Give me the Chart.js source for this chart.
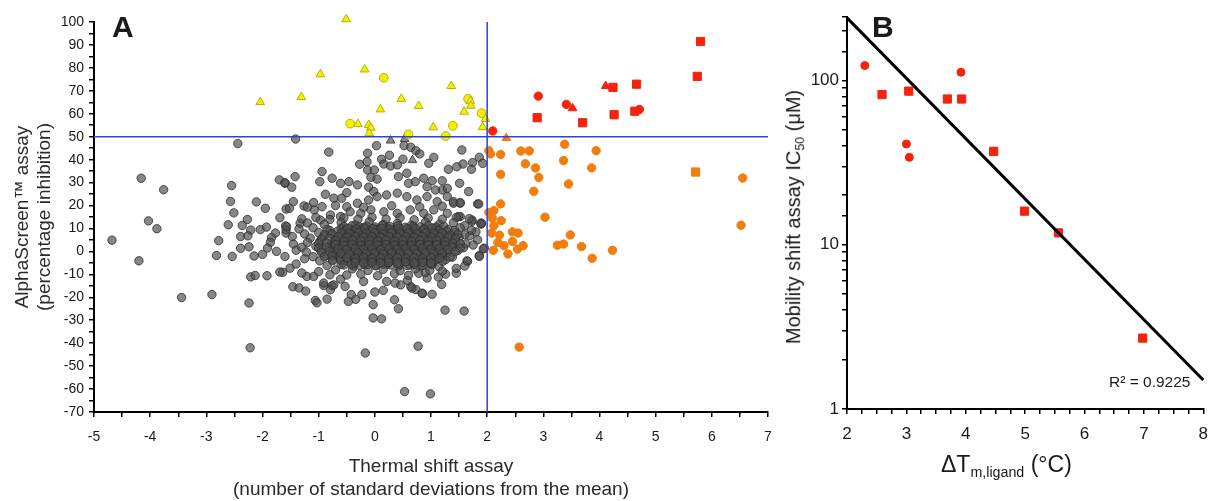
<!DOCTYPE html>
<html>
<head>
<meta charset="utf-8">
<script src="https://cdn.jsdelivr.net/npm/chart.js@4.4.1/dist/chart.umd.min.js"></script>
<style>
  body { margin: 0; background: #fff; width: 1210px; height: 501px; overflow: hidden; position: relative; font-family: Arial, "Liberation Sans", sans-serif; }
  #wrapA { position: absolute; left: 0; top: 0; }
  #wrapB { position: absolute; left: 760px; top: 0; }
  .lbl { position: absolute; color: #1a1a1a; white-space: nowrap; line-height: 1; }
  .lbl sub { font-size: 0.62em; vertical-align: -0.35em; }
</style>
</head>
<body>
<div id="wrapA"><canvas id="chartA" width="790" height="501"></canvas></div>
<div id="wrapB"><canvas id="chartB" width="458" height="501"></canvas></div>
<div class="lbl" style="left:112px;top:12px;font-weight:bold;font-size:30px;">A</div>
<div class="lbl" style="left:872px;top:12px;font-weight:bold;font-size:30px;">B</div>
<div class="lbl" style="left:1109px;top:374px;font-size:15.5px;">R² = 0.9225</div>
<div class="lbl" style="left:795px;top:217px;font-size:20px;transform:translate(-50%,-50%) rotate(-90deg);">Mobility shift assay IC<sub>50</sub> (μM)</div>
<div class="lbl" style="left:941px;top:453px;font-size:23px;">ΔT<sub>m,ligand</sub> (°C)</div>

<script>
// ---- panel A: thermal shift vs AlphaScreen ----
const cutX = 2;     // 2 SD threshold
const cutY = 50;    // 50 % inhibition threshold

const grayTri = [[0.28, 48.3], [0.53, 49.0], [0.67, 39.8]];

const grayPts = [
  // outliers and left side
  [-4.68, 4.9], [-4.20, -4.1], [-4.16, 31.9], [-3.76, 26.9], [-4.03, 13.3], [-3.88, 9.9], [-3.44, -20.1], [-2.90, -18.8],
  [-2.44, 47.0], [-2.55, 28.7], [-2.57, 21.8], [-2.51, 16.8], [-2.61, 11.6], [-2.78, 4.7], [-2.82, -1.8], [-2.54, -2.2],
  [-2.24, -22.5], [-2.22, -42.0], [-2.11, 21.6], [-1.95, 18.8], [-2.27, 13.9], [-2.36, 11.3], [-2.21, 9.3], [-2.39, 6.5],
  [-2.26, 6.8], [-2.04, 9.5], [-1.93, 10.6], [-1.77, 8.0], [-1.84, 6.0], [-1.86, 4.0], [-1.91, 1.5], [-2.39, 1.4],
  [-2.24, 2.0], [-2.15, -2.0], [-2.00, -1.3], [-1.75, 0.0], [-1.70, 31.2], [-1.60, 29.7], [-1.69, 14.7], [-1.58, 18.5],
  [-1.59, 11.1], [-1.58, 8.0], [-1.60, -2.2], [-1.64, -9.1], [-2.21, -11.1], [-2.13, -10.5], [-1.92, -10.6], [-1.69, -9.0],
  // lower tail
  [-0.17, -44.3], [0.77, -41.3], [0.53, -61.1], [0.99, -62.1], [-0.03, -23.2], [-0.03, -29.0], [0.12, -29.4], [0.42, -25.0],
  [0.35, -21.1], [1.25, -25.6], [1.59, -26.0], [0.85, -18.4], [1.02, -18.7], [1.19, -14.4], [-1.06, -21.4], [-1.03, -22.4],
  [-0.85, -20.8], [-0.47, -21.8], [-0.34, -20.9], [-0.42, -18.8], [-0.23, -18.8], [0.00, -17.7], [0.15, -17.0], [-1.46, -15.4],
  [-1.35, -15.9], [-1.23, -17.3], [1.13, -11.2], [1.45, -9.5], [1.26, -9.9], [0.64, -15.3], [0.73, -16.6], [0.46, -14.6],
  [-0.76, -15.0], [-0.91, -14.9], [-0.53, -15.3], [0.58, -12.7], [0.66, -16.0], [0.84, -18.2], [1.65, -4.4], [1.86, -1.8],
  [1.95, 1.4], [1.83, 5.1], [1.89, 12.3], [1.73, 13.1], [1.69, 6.8], [-1.58, 9.4], [-1.47, 6.5], [-1.51, -7.3],
  [-1.21, -10.9], [-1.09, -10.9], [-0.91, -13.8], [-0.79, -16.7], [-0.73, -14.6], [-0.61, -12.1], [-0.50, -10.3], [-0.20, -13.1],
  [0.21, -13.1], [0.36, -13.8], [0.78, -9.5], [0.93, -11.6], [1.14, -6.6], [1.64, -4.1], [1.86, -2.2], [1.93, 1.1],
  [1.89, 11.9], [1.52, 15.2], [1.83, 20.7], [1.52, 21.0], [1.40, 21.0],
  // upper part
  [-1.41, 49.0], [-0.82, 43.3], [0.03, 46.1], [0.52, 46.1], [0.64, 45.4], [0.73, 43.9], [0.80, 42.5], [-0.13, 42.8],
  [0.26, 41.9], [0.12, 40.2], [-0.14, 39.1], [-0.27, 38.0], [0.16, 38.1], [0.28, 37.2], [0.40, 37.7], [0.50, 40.2],
  [1.05, 41.0], [0.96, 38.4], [1.55, 44.2], [1.86, 41.0], [1.92, 38.4], [1.74, 38.7], [1.57, 38.1], [1.46, 36.9],
  [1.31, 35.8], [1.72, 35.8], [-0.94, 34.8], [-1.42, 32.6], [-1.60, 30.0], [-1.48, 28.0], [-0.98, 30.4], [-0.76, 31.9],
  [-0.61, 29.7], [-0.46, 30.4], [-0.31, 29.0], [-0.13, 35.5], [-0.01, 35.5], [-0.07, 32.3], [0.04, 31.5], [0.42, 32.6],
  [0.57, 34.1], [0.60, 29.7], [0.72, 30.4], [0.87, 31.9], [1.02, 30.8], [1.20, 30.8], [1.20, 26.8], [0.93, 28.2],
  [1.08, 26.8], [1.29, 27.5], [1.51, 29.7], [1.67, 26.1], [-0.11, 28.0], [-0.02, 26.1], [-0.88, 24.9], [-0.73, 23.2],
  [-0.59, 23.2], [-0.50, 25.6], [-1.45, 21.7], [-1.52, 18.8], [-1.26, 19.8], [-1.09, 21.3], [-1.08, 18.1], [-0.94, 19.5],
  [-0.79, 15.9], [-0.50, 19.5], [-0.31, 21.0], [-0.11, 22.4], [0.04, 23.9], [0.21, 24.6], [0.40, 25.4], [0.57, 23.9],
  [0.75, 22.4], [0.93, 23.9], [1.11, 21.7], [1.29, 23.9], [1.40, 21.7], [1.52, 21.3], [1.85, 20.7], [1.73, 13.7],
  [1.90, 12.3], [1.49, 15.2], [1.29, 16.6], [1.05, 18.1], [0.87, 16.6], [0.63, 18.1], [0.40, 16.6], [0.16, 17.3],
  [-0.07, 18.1], [-0.25, 16.6], [-0.44, 17.3], [-0.61, 15.2], [-0.97, 13.7], [-1.33, 12.3], [-1.57, 10.8],
  [-1.2, 19.3], [-0.7, 20.0], [-0.2, 19.2], [0.3, 19.9], [0.8, 19.4], [1.2, 19.7],
  [-1.3, 14.2], [-1.05, 14.8], [-0.8, 13.9], [-0.55, 14.6], [-0.3, 14.0], [-0.05, 14.9], [0.2, 14.1], [0.45, 14.7],
  [0.7, 13.8], [0.95, 14.5], [1.2, 14.0], [1.45, 14.8], [1.68, 14.3],
  // around the core
  [-1.3, -9.4], [-1.0, -8.8], [-0.8, -10.2], [-0.25, -9.9], [0.05, -10.6], [0.35, -9.7], [0.6, -10.4], [0.9, -9.2],
  [1.2, -8.6], [1.45, -7.4], [-1.4, -5.5], [-1.25, -3.2], [1.6, -6.4], [1.75, 2.8], [1.8, 8.5], [-1.45, 3.2], [-1.4, 0.5],
  // dense core
  [-1.2, 12.4], [-0.9, 11.8], [-0.6, 12.6], [-0.35, 11.5], [-0.1, 12.9], [0.15, 11.7], [0.4, 12.2], [0.65, 11.4],
  [0.9, 12.8], [1.15, 11.9], [1.4, 12.5], [1.6, 11.2], [-1.35, 9.8], [-1.1, 10.3], [-0.85, 9.6], [-0.6, 10.1],
  [-0.4, 9.4], [-0.2, 10.5], [0.02, 9.7], [0.22, 10.2], [0.45, 9.5], [0.68, 10.4], [0.88, 9.8], [1.08, 10.1],
  [1.3, 9.6], [1.52, 10.3], [1.72, 9.2], [-1.25, 7.6], [-1.0, 8.2], [-0.78, 7.8], [-0.55, 8.4], [-0.35, 7.5],
  [-0.15, 8.1], [0.05, 7.7], [0.25, 8.3], [0.42, 7.6], [0.6, 8.0], [0.8, 7.4], [1.0, 8.2], [1.2, 7.7],
  [1.42, 8.1], [1.6, 7.3], [-1.15, 5.8], [-0.92, 6.2], [-0.7, 5.6], [-0.5, 6.3], [-0.3, 5.7], [-0.1, 6.1],
  [0.1, 5.5], [0.3, 6.2], [0.5, 5.8], [0.7, 6.4], [0.9, 5.6], [1.1, 6.0], [1.3, 5.4], [1.5, 6.1],
  [-1.2, 3.9], [-0.98, 4.3], [-0.76, 3.6], [-0.55, 4.2], [-0.36, 3.8], [-0.16, 4.4], [0.04, 3.7], [0.24, 4.1],
  [0.44, 3.5], [0.62, 4.3], [0.82, 3.8], [1.02, 4.2], [1.22, 3.6], [1.44, 4.0], [1.62, 3.3], [-1.3, 1.8],
  [-1.05, 2.2], [-0.82, 1.6], [-0.6, 2.4], [-0.4, 1.7], [-0.2, 2.3], [0.0, 1.9], [0.2, 2.5], [0.4, 1.8],
  [0.6, 2.2], [0.8, 1.5], [1.0, 2.3], [1.2, 1.9], [1.4, 2.4], [1.58, 1.6], [-1.22, -0.2], [-0.96, 0.3],
  [-0.74, -0.4], [-0.52, 0.4], [-0.32, -0.3], [-0.12, 0.2], [0.08, -0.5], [0.28, 0.3], [0.48, -0.2], [0.68, 0.5],
  [0.88, -0.3], [1.08, 0.1], [1.28, -0.4], [1.48, 0.4], [-1.1, -2.3], [-0.86, -1.8], [-0.64, -2.5], [-0.44, -1.7],
  [-0.24, -2.2], [-0.04, -1.6], [0.16, -2.4], [0.36, -1.9], [0.56, -2.6], [0.76, -1.8], [0.96, -2.3], [1.16, -1.7],
  [1.38, -2.5], [-0.98, -4.1], [-0.75, -3.6], [-0.55, -4.4], [-0.35, -3.8], [-0.14, -4.2], [0.06, -3.5], [0.26, -4.3],
  [0.46, -3.7], [0.66, -4.5], [0.86, -3.9], [1.06, -4.2], [1.26, -3.6], [-0.85, -6.2], [-0.6, -5.7], [-0.38, -6.4],
  [-0.18, -5.8], [0.02, -6.3], [0.22, -5.6], [0.42, -6.5], [0.62, -5.9], [0.82, -6.4], [1.02, -5.7], [-0.7, -8.1],
  [-0.4, -7.6], [-0.12, -8.3], [0.15, -7.8], [0.45, -8.4], [0.72, -7.7], [0.98, -8.2],
  [-0.25, 7.0], [-0.05, 6.8], [0.15, 7.1], [0.35, 6.9], [0.55, 7.2], [0.75, 6.7], [-0.2, 3.0], [0.0, 2.8],
  [0.2, 3.2], [0.4, 2.9], [0.6, 3.1], [0.8, 2.7], [1.0, 3.0], [-0.15, -1.0], [0.05, -0.8], [0.25, -1.2],
  [0.45, -0.9], [0.65, -1.1], [0.85, -0.7], [-0.4, 5.0], [-0.2, 4.9], [0.6, 5.0], [0.3, 5.1], [0.85, 5.1],
  [-0.3, 1.0], [0.1, 1.0], [0.5, 0.8], [0.9, 1.1],
  [-0.55, 10.9], [-0.41, 11.2], [-0.28, 10.6], [-0.14, 11.0], [0.0, 10.7], [0.13, 11.3], [0.27, 10.8], [0.41, 11.1],
  [0.54, 10.5], [0.68, 11.0], [0.81, 10.7], [0.95, 11.2], [1.09, 10.6], [1.23, 10.9],
  [-0.8, 9.1], [-0.66, 8.8], [-0.52, 9.3], [-0.38, 8.7], [-0.25, 9.2], [-0.11, 8.9], [0.03, 9.4], [0.17, 8.8],
  [0.31, 9.1], [0.45, 8.6], [0.58, 9.3], [0.72, 8.9], [0.86, 9.2], [1.0, 8.7], [1.14, 9.1], [1.28, 8.8], [1.42, 9.0],
  [-0.9, 7.2], [-0.76, 7.5], [-0.62, 7.0], [-0.48, 7.4], [-0.34, 7.1], [-0.2, 7.6], [-0.06, 7.2], [0.08, 7.5],
  [0.22, 7.0], [0.36, 7.4], [0.5, 7.1], [0.64, 7.6], [0.78, 7.2], [0.92, 7.5], [1.06, 7.0], [1.2, 7.4], [1.34, 7.1], [1.48, 7.5],
  [-0.95, 5.3], [-0.81, 5.6], [-0.67, 5.1], [-0.53, 5.5], [-0.39, 5.2], [-0.25, 5.7], [-0.11, 5.3], [0.03, 5.6],
  [0.17, 5.1], [0.31, 5.5], [0.45, 5.2], [0.59, 5.7], [0.73, 5.3], [0.87, 5.6], [1.01, 5.1], [1.15, 5.5], [1.29, 5.2], [1.43, 5.6],
  [-1.0, 3.4], [-0.86, 3.7], [-0.72, 3.2], [-0.58, 3.6], [-0.44, 3.3], [-0.3, 3.8], [-0.16, 3.4], [-0.02, 3.7],
  [0.12, 3.2], [0.26, 3.6], [0.4, 3.3], [0.54, 3.8], [0.68, 3.4], [0.82, 3.7], [0.96, 3.2], [1.1, 3.6], [1.24, 3.3],
  [1.38, 3.7], [1.52, 3.4],
  [-1.0, 1.5], [-0.86, 1.8], [-0.72, 1.3], [-0.58, 1.7], [-0.44, 1.4], [-0.3, 1.9], [-0.16, 1.5], [-0.02, 1.8],
  [0.12, 1.3], [0.26, 1.7], [0.4, 1.4], [0.54, 1.9], [0.68, 1.5], [0.82, 1.8], [0.96, 1.3], [1.1, 1.7], [1.24, 1.4],
  [1.38, 1.8], [1.52, 1.5],
  [-0.95, -0.4], [-0.81, -0.1], [-0.67, -0.6], [-0.53, -0.2], [-0.39, -0.5], [-0.25, 0.0], [-0.11, -0.4], [0.03, -0.1],
  [0.17, -0.6], [0.31, -0.2], [0.45, -0.5], [0.59, 0.0], [0.73, -0.4], [0.87, -0.1], [1.01, -0.6], [1.15, -0.2],
  [1.29, -0.5], [1.43, -0.1],
  [-0.9, -2.3], [-0.76, -2.0], [-0.62, -2.5], [-0.48, -2.1], [-0.34, -2.4], [-0.2, -1.9], [-0.06, -2.3], [0.08, -2.0],
  [0.22, -2.5], [0.36, -2.1], [0.5, -2.4], [0.64, -1.9], [0.78, -2.3], [0.92, -2.0], [1.06, -2.5], [1.2, -2.1], [1.34, -2.4],
  [-0.75, -4.1], [-0.61, -3.8], [-0.47, -4.3], [-0.33, -3.9], [-0.19, -4.2], [-0.05, -3.7], [0.09, -4.1], [0.23, -3.8],
  [0.37, -4.3], [0.51, -3.9], [0.65, -4.2], [0.79, -3.7], [0.93, -4.1], [1.07, -3.8], [1.21, -4.3],
  [-0.55, -5.9], [-0.41, -5.6], [-0.27, -6.1], [-0.13, -5.7], [0.01, -6.0], [0.15, -5.5], [0.29, -5.9], [0.43, -5.6],
  [0.57, -6.1], [0.71, -5.7], [0.85, -6.0], [0.99, -5.5],
  // darkest centre
  [-0.48, 10.0], [-0.33, 9.8], [-0.18, 10.2], [-0.03, 9.9], [0.12, 10.1], [0.27, 9.7], [0.42, 10.2], [0.57, 9.9],
  [0.72, 10.1], [0.87, 9.7], [1.02, 10.2],
  [-0.6, 8.0], [-0.45, 7.8], [-0.3, 8.2], [-0.15, 7.9], [0.0, 8.1], [0.15, 7.7], [0.3, 8.2], [0.45, 7.9],
  [0.6, 8.1], [0.75, 7.8], [0.9, 8.2], [1.05, 7.9], [1.2, 8.1],
  [-0.65, 6.4], [-0.5, 6.1], [-0.35, 6.5], [-0.2, 6.2], [-0.05, 6.4], [0.1, 6.1], [0.25, 6.5], [0.4, 6.2],
  [0.55, 6.4], [0.7, 6.1], [0.85, 6.5], [1.0, 6.2], [1.15, 6.4], [1.3, 6.1],
  [-0.7, 4.7], [-0.55, 4.4], [-0.4, 4.8], [-0.25, 4.5], [-0.1, 4.7], [0.05, 4.4], [0.2, 4.8], [0.35, 4.5],
  [0.5, 4.7], [0.65, 4.4], [0.8, 4.8], [0.95, 4.5], [1.1, 4.7], [1.25, 4.4],
  [-0.7, 2.9], [-0.55, 2.6], [-0.4, 3.0], [-0.25, 2.7], [-0.1, 2.9], [0.05, 2.6], [0.2, 3.0], [0.35, 2.7],
  [0.5, 2.9], [0.65, 2.6], [0.8, 3.0], [0.95, 2.7], [1.1, 2.9], [1.25, 2.6],
  [-0.65, 1.1], [-0.5, 0.8], [-0.35, 1.2], [-0.2, 0.9], [-0.05, 1.1], [0.1, 0.8], [0.25, 1.2], [0.4, 0.9],
  [0.55, 1.1], [0.7, 0.8], [0.85, 1.2], [1.0, 0.9], [1.15, 1.1], [1.3, 0.8],
  [-0.6, -0.8], [-0.45, -1.1], [-0.3, -0.7], [-0.15, -1.0], [0.0, -0.8], [0.15, -1.1], [0.3, -0.7], [0.45, -1.0],
  [0.6, -0.8], [0.75, -1.1], [0.9, -0.7], [1.05, -1.0], [1.2, -0.8],
  [-0.5, -2.8], [-0.35, -3.1], [-0.2, -2.7], [-0.05, -3.0], [0.1, -2.8], [0.25, -3.1], [0.4, -2.7], [0.55, -3.0],
  [0.7, -2.8], [0.85, -3.1], [1.0, -2.7], [1.15, -3.0],
  [-0.35, -4.8], [-0.2, -5.1], [-0.05, -4.7], [0.1, -5.0], [0.25, -4.8], [0.4, -5.1], [0.55, -4.7], [0.7, -5.0],
  [0.85, -4.8], [1.0, -5.1]
];

const yellowTri = [
  [-0.51, 101.2], [-2.04, 65.1], [-1.31, 67.3], [-0.97, 77.2], [-0.18, 79.3], [0.47, 66.5], [0.10, 61.9], [0.78, 63.4],
  [1.36, 72.1], [-0.30, 55.5], [-0.11, 55.1], [-0.07, 53.9], [-0.10, 51.5], [1.04, 54.1], [1.59, 60.9], [1.70, 65.5],
  [1.71, 63.5], [1.97, 57.7], [1.92, 54.2]
];
const yellowCirc = [[0.16, 75.7], [-0.44, 55.7], [0.60, 51.0], [1.26, 50.3], [1.39, 54.8], [1.66, 66.5], [1.90, 60.3]];

const redCirc = [[2.10, 52.5], [2.91, 67.7], [3.41, 64.1], [4.71, 61.9]];
const redTri = [[3.52, 62.4], [4.11, 72.1]];
const redSq = [[4.24, 71.5], [4.66, 72.9], [2.89, 58.3], [3.70, 56.1], [4.26, 59.6], [4.63, 61.1], [5.74, 76.3], [5.80, 91.5]];

const orangeTri = [[2.34, 49.4]];
const orangeSq = [[5.71, 34.6]];
const orangeCirc = [
  [2.03, 43.9], [2.06, 42.5], [2.24, 42.3], [2.60, 43.8], [2.75, 43.8], [3.38, 46.7], [3.94, 43.9], [2.68, 38.2],
  [2.86, 36.4], [3.36, 39.6], [3.86, 36.4], [2.24, 33.6], [2.92, 32.2], [3.45, 29.4], [2.83, 26.2], [6.55, 32.0],
  [2.24, 20.7], [2.03, 17.0], [2.12, 17.8], [2.09, 14.5], [2.25, 13.4], [2.12, 11.2], [2.08, 8.0], [2.22, 7.1],
  [2.19, 3.9], [2.30, 2.5], [2.11, 0.5], [2.37, -1.1], [2.45, 8.5], [2.55, 8.0], [2.45, 4.3], [2.54, 1.0],
  [2.64, 2.5], [3.03, 14.9], [3.25, 2.7], [3.36, 3.2], [3.48, 7.2], [3.68, 2.1], [3.87, -3.0], [4.23, 0.5],
  [6.52, 11.4], [2.57, -41.7]
];

// ---- panel B: delta Tm vs mobility shift IC50 ----
const bCirc = [[2.30, 123], [3.00, 41], [3.05, 34], [3.92, 112]];
const bSq = [[2.59, 82], [3.04, 86], [3.69, 77], [3.93, 77], [4.47, 37], [4.99, 16], [5.56, 11.8], [6.98, 2.7]];
const fitX = [2, 8];
const fitY = [240, 1.5];

const FONT = 'Arial, "Liberation Sans", sans-serif';
// semi-transparent gray so the crowded centre goes dark like the original
const GRAY = 'rgba(78,78,78,0.68)', GRAY_BD = 'rgba(45,45,45,0.8)';
const YEL = '#f4f000', YEL_BD = '#b8b000';
const ORA = '#f07d0c', RED = '#f5230c', BLUE = '#2b44d6';

function pts(arr) {
  return arr.map(p => ({ x: p[0], y: p[1] }));
}

function marks(arr, style, r, bg, bd) {
  return {
    data: pts(arr), pointStyle: style, pointRadius: r, pointHoverRadius: r,
    backgroundColor: bg, borderColor: bd, pointBorderWidth: 1, showLine: false, clip: false
  };
}

function line(arr, color, w) {
  return {
    data: pts(arr), showLine: true, borderColor: color, borderWidth: w,
    pointRadius: 0, fill: false, clip: false
  };
}

const axisStyle = {
  grid: { drawOnChartArea: false, drawTicks: true, tickLength: 5, color: '#000', lineWidth: 1.5 },
  border: { display: true, color: '#000', width: 2 }
};

new Chart(document.getElementById('chartA'), {
  type: 'scatter',
  data: {
    datasets: [
      line([[cutX, 100], [cutX, -70]], BLUE, 1.5),
      line([[-5, cutY], [7, cutY]], BLUE, 1.5),
      marks(redSq, 'rect', 5.8, RED, RED),
      marks(redTri, 'triangle', 5, RED, RED),
      marks(redCirc, 'circle', 4.2, RED, RED),
      marks(orangeSq, 'rect', 5.8, ORA, ORA),
      marks(orangeTri, 'triangle', 5, ORA, ORA),
      marks(orangeCirc, 'circle', 4.2, ORA, ORA),
      marks(yellowTri, 'triangle', 5, YEL, YEL_BD),
      marks(yellowCirc, 'circle', 4.4, YEL, YEL_BD),
      marks(grayTri, 'triangle', 5, GRAY, GRAY_BD),
      marks(grayPts, 'circle', 4.2, GRAY, GRAY_BD)
    ]
  },
  options: {
    responsive: false,
    animation: false,
    events: [],
    layout: { padding: { top: 22, right: 22, left: 0, bottom: 0 } },
    plugins: { legend: { display: false }, tooltip: { enabled: false } },
    scales: {
      x: {
        type: 'linear', min: -5, max: 7,
        ...axisStyle,
        afterFit: s => { s.height = 89; },
        ticks: {
          stepSize: 0.5, autoSkip: false, maxRotation: 0, padding: 12, color: '#1a1a1a',
          font: { family: FONT, size: 14 },
          callback: v => Number.isInteger(v) ? String(v) : ''
        },
        title: {
          display: true, color: '#2a2a2a', padding: { top: 0, bottom: 0 },
          text: ['Thermal shift assay', '(number of standard deviations from the mean)'],
          font: { family: FONT, size: 19 }
        }
      },
      y: {
        type: 'linear', min: -70, max: 100,
        ...axisStyle,
        afterFit: s => { s.width = 94; },
        ticks: {
          stepSize: 5, autoSkip: false, padding: 5, color: '#1a1a1a',
          font: { family: FONT, size: 14 },
          callback: v => (v % 10 === 0) ? String(v) : ''
        },
        title: {
          display: true, color: '#2a2a2a', padding: { top: 11, bottom: 0 },
          text: ['AlphaScreen™ assay', '(percentage inhibition)'],
          font: { family: FONT, size: 19 }
        }
      }
    }
  }
});

new Chart(document.getElementById('chartB'), {
  type: 'scatter',
  data: {
    datasets: [
      line(fitX.map((x, i) => [x, fitY[i]]), '#000', 3),
      marks(bSq, 'rect', 5.8, RED, RED),
      marks(bCirc, 'circle', 4, RED, RED)
    ]
  },
  options: {
    responsive: false,
    animation: false,
    events: [],
    layout: { padding: { top: 17, right: 7, left: 0, bottom: 0 } },
    plugins: { legend: { display: false }, tooltip: { enabled: false } },
    scales: {
      x: {
        type: 'linear', min: 2, max: 8,
        ...axisStyle,
        afterFit: s => { s.height = 92; },
        ticks: {
          stepSize: 0.25, autoSkip: false, maxRotation: 0, padding: 10, color: '#1a1a1a',
          font: { family: FONT, size: 17 },
          callback: v => Number.isInteger(v) ? String(v) : ''
        }
      },
      y: {
        type: 'logarithmic', min: 1, max: 243,
        ...axisStyle,
        afterFit: s => { s.width = 87; },
        ticks: {
          autoSkip: false, padding: 3, color: '#1a1a1a',
          font: { family: FONT, size: 17 },
          callback: v => [1, 10, 100].includes(v) ? String(v) : ''
        }
      }
    }
  }
});
</script>
</body>
</html>
